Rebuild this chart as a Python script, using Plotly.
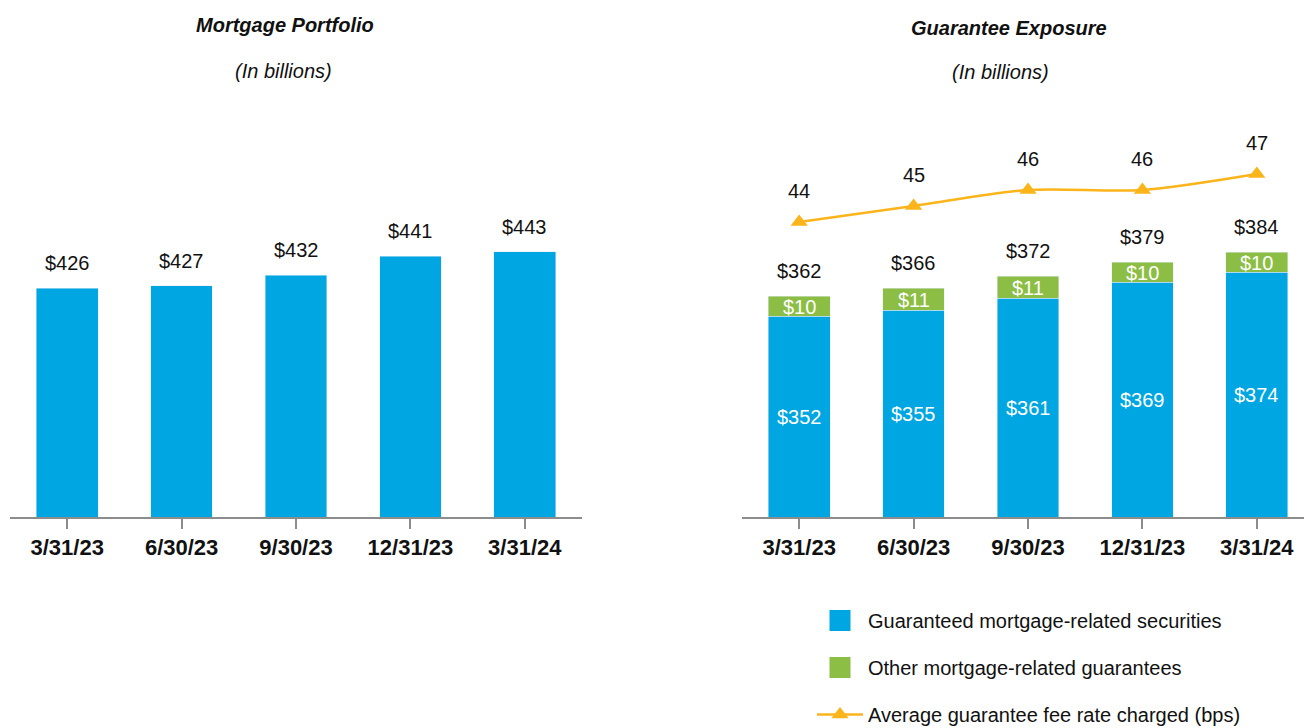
import plotly.graph_objects as go

# ---------------- data ----------------
dates = ["3/31/23", "6/30/23", "9/30/23", "12/31/23", "3/31/24"]
mortgage_portfolio = [426, 427, 432, 441, 443]
guaranteed_securities = [352, 355, 361, 369, 374]
other_guarantees = [10, 11, 11, 10, 10]
guarantee_totals = [362, 366, 372, 379, 384]
fee_rate_bps = [44, 45, 46, 46, 47]

series_names = [
    "Guaranteed mortgage-related securities",
    "Other mortgage-related guarantees",
    "Average guarantee fee rate charged (bps)",
]

# ---------------- style ----------------
W, H = 1304, 728
BLUE = "#00A6E1"
GREEN = "#8CBE46"
GOLD = "#FBB41A"
AXIS_GRAY = "#8C8C8C"
FONT = "Liberation Sans, Arial, sans-serif"


def px_x(p):
    return p / W


def px_y(p):
    return 1 - p / H


Y_DOMAIN = [px_y(517), px_y(110)]
plot_h = 517 - 110

L_MIN, L_SCALE = 318.5, 2.13
R_MIN, R_SCALE = 251.5, 2.0
F_MIN, F_SCALE = 25.56, 16.0

fig = go.Figure()

fig.add_trace(go.Bar(
    x=dates, y=mortgage_portfolio, marker_color=BLUE, width=0.54,
    xaxis="x", yaxis="y", showlegend=False, hoverinfo="skip",
))
fig.add_trace(go.Bar(
    x=dates, y=guaranteed_securities, marker_color=BLUE, width=0.54,
    xaxis="x2", yaxis="y2", name=series_names[0], showlegend=False,
))
fig.add_trace(go.Bar(
    x=dates, y=other_guarantees, marker_color=GREEN, width=0.54,
    xaxis="x2", yaxis="y2", name=series_names[1], showlegend=False,
))
fig.add_trace(go.Scatter(
    x=dates, y=fee_rate_bps, mode="lines+markers",
    line=dict(color=GOLD, width=2.5, shape="spline", smoothing=0.8),
    marker=dict(symbol="triangle-up", size=15, color=GOLD),
    xaxis="x2", yaxis="y3", name=series_names[2],
    legendgroup="c", legendrank=3,
))

# legend entries for the bar series (square swatches)
for nm, col, grp, rk in [(series_names[0], BLUE, "a", 1), (series_names[1], GREEN, "b", 2)]:
    fig.add_trace(go.Scatter(
        x=[None], y=[None], mode="markers", name=nm,
        marker=dict(symbol="square", size=16, color=col, line=dict(color=col, width=5)),
        xaxis="x2", yaxis="y2", legendgroup=grp, legendrank=rk,
    ))

ann = []
lbl_font = dict(family=FONT, size=20, color="#111111")
white_font = dict(family=FONT, size=20, color="#FFFFFF")

for d, v in zip(dates, mortgage_portfolio):
    ann.append(dict(x=d, y=v, xref="x", yref="y", text=f"${v}", showarrow=False,
                    xanchor="center", yanchor="middle", yshift=25, font=lbl_font))
for d, t in zip(dates, guarantee_totals):
    ann.append(dict(x=d, y=t, xref="x2", yref="y2", text=f"${t}", showarrow=False,
                    xanchor="center", yanchor="middle", yshift=25, font=lbl_font))
for d, b, o in zip(dates, guaranteed_securities, other_guarantees):
    ann.append(dict(x=d, y=(R_MIN + b) / 2, xref="x2", yref="y2", text=f"${b}",
                    showarrow=False, xanchor="center", yanchor="middle", font=white_font))
    ann.append(dict(x=d, y=b + o / 2, xref="x2", yref="y2", text=f"${o}",
                    showarrow=False, xanchor="center", yanchor="middle", yshift=-1,
                    font=white_font))
for d, f in zip(dates, fee_rate_bps):
    ann.append(dict(x=d, y=f, xref="x2", yref="y3", text=f"{f}", showarrow=False,
                    xanchor="center", yanchor="middle", yshift=31, font=lbl_font))

# titles
title_font = dict(family=FONT, size=20, color="#111111")
for txt, cx, cy in [
    ("<b><i>Mortgage Portfolio</i></b>", 285, 25),
    ("<i>(In billions)</i>", 283, 71),
    ("<b><i>Guarantee Exposure</i></b>", 1009, 28),
    ("<i>(In billions)</i>", 1000, 72),
]:
    ann.append(dict(x=px_x(cx), y=px_y(cy), xref="paper", yref="paper", showarrow=False,
                    text=txt, xanchor="center", yanchor="middle", font=title_font))

xaxis_common = dict(
    type="category", showline=True, linecolor=AXIS_GRAY, linewidth=2,
    ticks="outside", ticklen=10, tickwidth=2, tickcolor=AXIS_GRAY,
    showgrid=False, zeroline=False,
    tickfont=dict(family=FONT, size=22, color="#111111", weight="bold"),
    fixedrange=True,
)

fig.update_layout(
    width=W, height=H,
    margin=dict(l=0, r=0, t=0, b=0, autoexpand=False),
    paper_bgcolor="white", plot_bgcolor="white",
    barmode="stack",
    font=dict(family=FONT, size=20, color="#111111"),
    xaxis=dict(domain=[px_x(10), px_x(582)], anchor="y", range=[-0.5, 4.5], **xaxis_common),
    yaxis=dict(domain=Y_DOMAIN, anchor="x", visible=False,
               range=[L_MIN, L_MIN + plot_h / L_SCALE]),
    xaxis2=dict(domain=[px_x(742), 1], anchor="y2",
                range=[-0.5, -0.5 + (W - 742) / 114.4], **xaxis_common),
    yaxis2=dict(domain=Y_DOMAIN, anchor="x2", visible=False,
                range=[R_MIN, R_MIN + plot_h / R_SCALE]),
    yaxis3=dict(overlaying="y2", anchor="x2", visible=False,
                range=[F_MIN, F_MIN + plot_h / F_SCALE]),
    annotations=ann,
    showlegend=True,
    legend=dict(
        x=px_x(812), y=px_y(601), xanchor="left", yanchor="top",
        font=dict(family=FONT, size=20, color="#111111"),
        tracegroupgap=18, itemwidth=46, bgcolor="rgba(0,0,0,0)",
        traceorder="grouped",
    ),
)

fig.write_html(
    "out.html",
    config={"displayModeBar": False},
    post_script="document.body.style.margin='0';document.body.style.overflow='hidden';",
)
